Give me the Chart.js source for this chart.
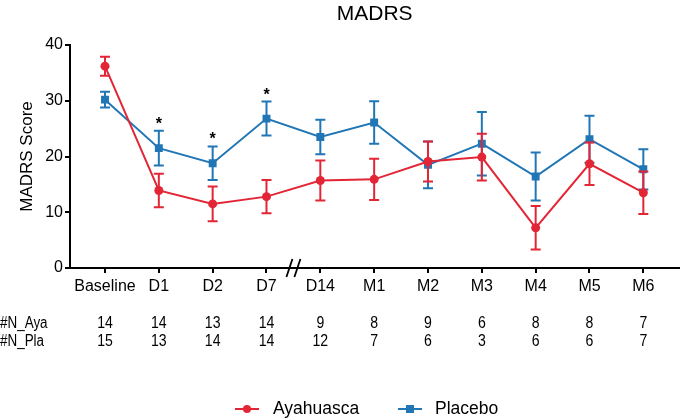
<!DOCTYPE html>
<html>
<head>
<meta charset="utf-8">
<script src="https://cdn.jsdelivr.net/npm/chart.js@4.4.1/dist/chart.umd.min.js"></script>
<style>
  body { margin: 0; background: #fff; }
  #wrap { width: 685px; height: 419px; }
</style>
</head>
<body>
<div id="wrap"><canvas id="madrs"></canvas></div>
<script>
// values (mean +/- SEM)
const timePoints = ['Baseline', 'D1', 'D2', 'D7', 'D14', 'M1', 'M2', 'M3', 'M4', 'M5', 'M6'];
const ayaMean = [36.2, 13.9, 11.5, 12.8, 15.7, 15.9, 19.1, 19.9, 7.2, 18.7, 13.5];
const ayaErr  = [1.7, 3.0, 3.1, 3.0, 3.6, 3.7, 3.6, 4.2, 3.9, 3.8, 3.8];
const plaMean = [30.2, 21.5, 18.8, 26.8, 23.5, 26.1, 18.5, 22.3, 16.4, 23.1, 17.7];
const plaErr  = [1.4, 3.1, 3.0, 3.05, 3.1, 3.8, 4.2, 5.7, 4.3, 4.2, 3.6];
const nAya = [14, 14, 13, 14, 9, 8, 9, 6, 8, 8, 7];
const nPla = [15, 13, 14, 14, 12, 7, 6, 3, 6, 6, 7];
const starAt = ['D1', 'D2', 'D7'];
const yTicks = [0, 10, 20, 30, 40];

const RED = '#e32636';
const BLUE = '#2176b5';
const FONT = '"Liberation Sans", Arial, Helvetica, sans-serif';
Chart.defaults.font.family = FONT;
Chart.defaults.color = '#000';

const errs = [ayaErr, plaErr];

// error bars, drawn right after each dataset so layering follows the lines
const errorBars = {
  id: 'errorBars',
  afterDatasetDraw(chart, args) {
    const ds = chart.data.datasets[args.index];
    const err = errs[args.index];
    const xs = chart.scales.x, ys = chart.scales.y;
    const ctx = chart.ctx;
    ctx.save();
    ctx.strokeStyle = ds.borderColor;
    ctx.lineWidth = 2;
    ds.data.forEach((p, i) => {
      const x = xs.getPixelForValue(p.x);
      const top = ys.getPixelForValue(p.y + err[i]);
      const bot = ys.getPixelForValue(p.y - err[i]);
      ctx.beginPath();
      ctx.moveTo(x, top); ctx.lineTo(x, bot);
      ctx.moveTo(x - 5, top); ctx.lineTo(x + 5, top);
      ctx.moveTo(x - 5, bot); ctx.lineTo(x + 5, bot);
      ctx.stroke();
    });
    ctx.restore();
  }
};

// narrow text like the figure's condensed labels
function narrowText(ctx, txt, x, y, sx) {
  ctx.save();
  ctx.translate(x, y);
  ctx.scale(sx, 1);
  ctx.fillText(txt, 0, 0);
  ctx.restore();
}

const extras = {
  id: 'extras',
  afterDraw(chart) {
    const ctx = chart.ctx;
    const xs = chart.scales.x, ys = chart.scales.y;
    const area = chart.chartArea;
    ctx.save();

    // title, centred over the plot area
    ctx.fillStyle = '#000';
    ctx.font = '21px ' + FONT;
    ctx.textAlign = 'center';
    ctx.textBaseline = 'alphabetic';
    ctx.fillText('MADRS', (area.left + area.right) / 2, 19.5);

    // axis break
    const bx = xs.getPixelForValue(3.5), by = ys.bottom;
    ctx.strokeStyle = '#000';
    ctx.lineWidth = 1.8;
    ctx.beginPath();
    ctx.moveTo(bx - 7, by + 9); ctx.lineTo(bx - 1, by - 9);
    ctx.moveTo(bx + 1, by + 9); ctx.lineTo(bx + 7, by - 9);
    ctx.stroke();

    // significance stars
    ctx.font = 'bold 16px ' + FONT;
    starAt.forEach(lbl => {
      const i = timePoints.indexOf(lbl);
      const top = ys.getPixelForValue(plaMean[i] + plaErr[i]);
      ctx.fillText('*', xs.getPixelForValue(i), top - 2);
    });

    // N rows
    ctx.font = '16px ' + FONT;
    ctx.textBaseline = 'middle';
    ctx.textAlign = 'left';
    narrowText(ctx, '#N_Aya', 0, 324, 0.84);
    narrowText(ctx, '#N_Pla', 0, 342, 0.84);
    ctx.textAlign = 'center';
    timePoints.forEach((_, i) => {
      const x = xs.getPixelForValue(i);
      narrowText(ctx, String(nAya[i]), x, 324, 0.88);
      narrowText(ctx, String(nPla[i]), x, 342, 0.88);
    });

    // legend
    const ly = 409;
    ctx.font = '17.5px ' + FONT;
    ctx.textAlign = 'left';
    ctx.lineWidth = 2;
    ctx.strokeStyle = RED; ctx.fillStyle = RED;
    ctx.beginPath(); ctx.moveTo(235, ly); ctx.lineTo(259, ly); ctx.stroke();
    ctx.beginPath(); ctx.arc(247, ly, 4, 0, Math.PI * 2); ctx.fill();
    ctx.strokeStyle = BLUE; ctx.fillStyle = BLUE;
    ctx.beginPath(); ctx.moveTo(398, ly); ctx.lineTo(422, ly); ctx.stroke();
    ctx.fillRect(406, ly - 4, 8, 8);
    ctx.fillStyle = '#000';
    ctx.fillText('Ayahuasca', 273, ly);
    ctx.fillText('Placebo', 435, ly);

    ctx.restore();
  }
};

const ctx = document.getElementById('madrs').getContext('2d');
const madrsChart = new Chart(ctx, {
  type: 'line',
  data: {
    datasets: [{
      label: 'Ayahuasca',
      data: ayaMean.map((v, i) => ({x: i, y: v})),
      borderColor: RED,
      backgroundColor: RED,
      borderWidth: 2,
      pointStyle: 'circle',
      pointRadius: 4.5,
      pointBorderWidth: 0,
      tension: 0
    }, {
      label: 'Placebo',
      data: plaMean.map((v, i) => ({x: i, y: v})),
      borderColor: BLUE,
      backgroundColor: BLUE,
      borderWidth: 2,
      pointStyle: 'rect',
      pointRadius: 5.6,
      pointBorderWidth: 0,
      tension: 0
    }]
  },
  options: {
    responsive: true,
    maintainAspectRatio: false,
    animation: false,
    layout: { padding: { left: 0, right: 2, top: 45, bottom: 0 } },
    plugins: {
      legend: { display: false },
      tooltip: { enabled: false },
      title: { display: false }
    },
    scales: {
      x: {
        type: 'linear',
        min: -0.65,
        max: 10.67,
        afterBuildTicks: s => { s.ticks = timePoints.map((_, i) => ({value: i})); },
        ticks: {
          callback: v => timePoints[v],
          font: { size: 16 },
          color: '#000',
          padding: 4,
          maxRotation: 0,
          autoSkip: false
        },
        grid: { drawOnChartArea: false, tickLength: 5, color: '#000', lineWidth: 2 },
        border: { color: '#000', width: 2 },
        afterFit: s => { s.height = 151; }
      },
      y: {
        min: 0,
        max: 40,
        afterBuildTicks: s => { s.ticks = yTicks.map(v => ({value: v})); },
        ticks: { font: { size: 16 }, color: '#000', padding: 2 },
        grid: { drawOnChartArea: false, tickLength: 5, color: '#000', lineWidth: 2 },
        border: { color: '#000', width: 2 },
        title: {
          display: true,
          text: 'MADRS Score',
          font: { size: 17 },
          color: '#000',
          padding: { top: 17, bottom: 0 }
        },
        afterFit: s => { s.width = 70; }
      }
    }
  },
  plugins: [errorBars, extras]
});
</script>
</body>
</html>
